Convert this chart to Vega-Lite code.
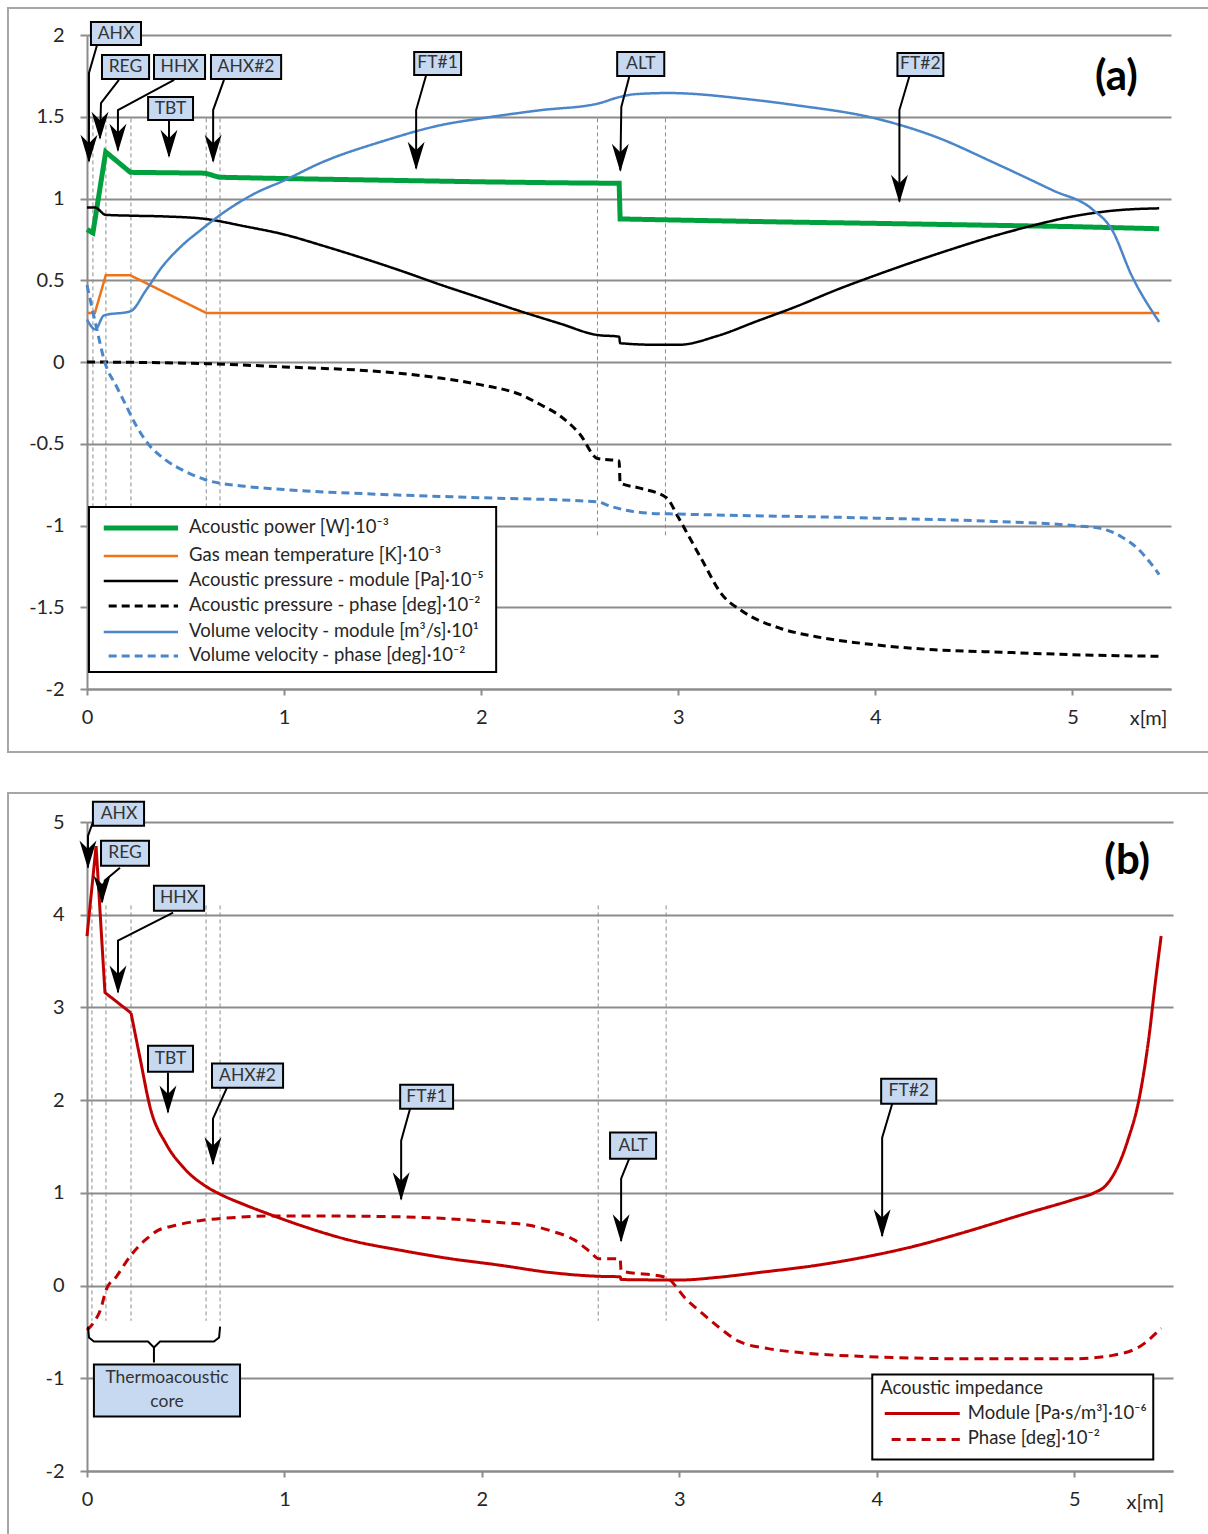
{
"$schema": "https://vega.github.io/schema/vega-lite/v6.json",
"padding": {"left": 6, "top": 7, "right": 0, "bottom": 0},
"background": "white",
"spacing": 38,
"resolve": {"scale": {"color": "independent", "strokeDash": "independent", "strokeWidth": "independent"}},
"config": {
  "view": {"stroke": null},
  "font": "Lato",
  "axis": {"labelFont": "Lato", "labelFontSize": 20, "labelColor": "#262626", "domainColor": "#8c8c8c", "domainWidth": 2, "tickColor": "#8c8c8c", "tickWidth": 2, "gridColor": "#8c8c8c", "gridWidth": 2, "labelFlush": false, "labelOverlap": false}
},
"datasets": {
  "frameA": [{"x": -0.401, "x2": 5.72, "y": 2.165, "y2": -2.385}],
  "frameB": [{"x": -0.4, "x2": 5.71, "y": 5.313, "y2": -2.75}],
  "vA": [{"x": 0.03, "y": 1.49, "y2": -1.06}, {"x": 0.096, "y": 1.49, "y2": -1.06}, {"x": 0.223, "y": 1.49, "y2": -1.06}, {"x": 0.605, "y": 1.49, "y2": -1.06}, {"x": 0.675, "y": 1.49, "y2": -1.06}, {"x": 2.59, "y": 1.49, "y2": -1.06}, {"x": 2.935, "y": 1.49, "y2": -1.06}],
  "vB": [{"x": 0.025, "y": 4.1, "y2": -0.38}, {"x": 0.096, "y": 4.1, "y2": -0.38}, {"x": 0.223, "y": 4.1, "y2": -0.38}, {"x": 0.603, "y": 4.1, "y2": -0.38}, {"x": 0.674, "y": 4.1, "y2": -0.38}, {"x": 2.589, "y": 4.1, "y2": -0.38}, {"x": 2.933, "y": 4.1, "y2": -0.38}],
  "seriesA1": [
    {"s": "P", "x": 0, "y": 0.81}, {"s": "P", "x": 0.03, "y": 0.79}, {"s": "P", "x": 0.095, "y": 1.285}, {"s": "P", "x": 0.22, "y": 1.16}, {"s": "P", "x": 0.6, "y": 1.155}, {"s": "P", "x": 0.67, "y": 1.13}, {"s": "P", "x": 1.0, "y": 1.122}, {"s": "P", "x": 1.5, "y": 1.112}, {"s": "P", "x": 2.0, "y": 1.102}, {"s": "P", "x": 2.4, "y": 1.096}, {"s": "P", "x": 2.7, "y": 1.093}, {"s": "P", "x": 2.705, "y": 0.875}, {"s": "P", "x": 3.0, "y": 0.868}, {"s": "P", "x": 3.5, "y": 0.857}, {"s": "P", "x": 4.0, "y": 0.848}, {"s": "P", "x": 4.5, "y": 0.838}, {"s": "P", "x": 5.0, "y": 0.828}, {"s": "P", "x": 5.44, "y": 0.815},
    {"s": "T", "x": 0, "y": 0.3}, {"s": "T", "x": 0.04, "y": 0.3}, {"s": "T", "x": 0.095, "y": 0.53}, {"s": "T", "x": 0.22, "y": 0.53}, {"s": "T", "x": 0.605, "y": 0.3}, {"s": "T", "x": 5.44, "y": 0.3}
  ],
  "seriesA2": [
    {"s": "PM", "x": 0, "y": 0.945}, {"s": "PM", "x": 0.04, "y": 0.945}, {"s": "PM", "x": 0.095, "y": 0.9}, {"s": "PM", "x": 0.22, "y": 0.895}, {"s": "PM", "x": 0.4, "y": 0.89}, {"s": "PM", "x": 0.6, "y": 0.875}, {"s": "PM", "x": 0.8, "y": 0.83}, {"s": "PM", "x": 1.0, "y": 0.78}, {"s": "PM", "x": 1.2, "y": 0.71}, {"s": "PM", "x": 1.4, "y": 0.635}, {"s": "PM", "x": 1.6, "y": 0.555}, {"s": "PM", "x": 1.8, "y": 0.47}, {"s": "PM", "x": 2.0, "y": 0.39}, {"s": "PM", "x": 2.2, "y": 0.31}, {"s": "PM", "x": 2.4, "y": 0.235}, {"s": "PM", "x": 2.59, "y": 0.165}, {"s": "PM", "x": 2.7, "y": 0.155}, {"s": "PM", "x": 2.705, "y": 0.115}, {"s": "PM", "x": 2.9, "y": 0.105}, {"s": "PM", "x": 3.0, "y": 0.105}, {"s": "PM", "x": 3.2, "y": 0.16}, {"s": "PM", "x": 3.4, "y": 0.25}, {"s": "PM", "x": 3.6, "y": 0.34}, {"s": "PM", "x": 3.8, "y": 0.44}, {"s": "PM", "x": 4.0, "y": 0.53}, {"s": "PM", "x": 4.2, "y": 0.615}, {"s": "PM", "x": 4.4, "y": 0.695}, {"s": "PM", "x": 4.6, "y": 0.77}, {"s": "PM", "x": 4.8, "y": 0.835}, {"s": "PM", "x": 5.0, "y": 0.89}, {"s": "PM", "x": 5.2, "y": 0.925}, {"s": "PM", "x": 5.44, "y": 0.94},
    {"s": "PP", "x": 0, "y": 0}, {"s": "PP", "x": 0.3, "y": -0.003}, {"s": "PP", "x": 0.6, "y": -0.01}, {"s": "PP", "x": 1.0, "y": -0.03}, {"s": "PP", "x": 1.5, "y": -0.06}, {"s": "PP", "x": 1.8, "y": -0.1}, {"s": "PP", "x": 2.0, "y": -0.14}, {"s": "PP", "x": 2.2, "y": -0.2}, {"s": "PP", "x": 2.3, "y": -0.26}, {"s": "PP", "x": 2.4, "y": -0.33}, {"s": "PP", "x": 2.5, "y": -0.44}, {"s": "PP", "x": 2.59, "y": -0.59}, {"s": "PP", "x": 2.7, "y": -0.605}, {"s": "PP", "x": 2.705, "y": -0.74}, {"s": "PP", "x": 2.8, "y": -0.77}, {"s": "PP", "x": 2.94, "y": -0.83}, {"s": "PP", "x": 3.0, "y": -0.95}, {"s": "PP", "x": 3.06, "y": -1.08}, {"s": "PP", "x": 3.12, "y": -1.21}, {"s": "PP", "x": 3.22, "y": -1.42}, {"s": "PP", "x": 3.32, "y": -1.52}, {"s": "PP", "x": 3.52, "y": -1.63}, {"s": "PP", "x": 3.7, "y": -1.68}, {"s": "PP", "x": 4.0, "y": -1.73}, {"s": "PP", "x": 4.3, "y": -1.76}, {"s": "PP", "x": 4.64, "y": -1.775}, {"s": "PP", "x": 5.0, "y": -1.79}, {"s": "PP", "x": 5.44, "y": -1.8},
    {"s": "VM", "x": 0, "y": 0.26}, {"s": "VM", "x": 0.042, "y": 0.2}, {"s": "VM", "x": 0.086, "y": 0.285}, {"s": "VM", "x": 0.22, "y": 0.31}, {"s": "VM", "x": 0.3, "y": 0.44}, {"s": "VM", "x": 0.38, "y": 0.58}, {"s": "VM", "x": 0.48, "y": 0.71}, {"s": "VM", "x": 0.58, "y": 0.81}, {"s": "VM", "x": 0.7, "y": 0.92}, {"s": "VM", "x": 0.85, "y": 1.03}, {"s": "VM", "x": 1.0, "y": 1.11}, {"s": "VM", "x": 1.19, "y": 1.22}, {"s": "VM", "x": 1.5, "y": 1.35}, {"s": "VM", "x": 1.8, "y": 1.45}, {"s": "VM", "x": 2.0, "y": 1.49}, {"s": "VM", "x": 2.3, "y": 1.54}, {"s": "VM", "x": 2.59, "y": 1.58}, {"s": "VM", "x": 2.7, "y": 1.62}, {"s": "VM", "x": 2.78, "y": 1.638}, {"s": "VM", "x": 2.95, "y": 1.645}, {"s": "VM", "x": 3.37, "y": 1.605}, {"s": "VM", "x": 3.6, "y": 1.57}, {"s": "VM", "x": 4.0, "y": 1.49}, {"s": "VM", "x": 4.3, "y": 1.38}, {"s": "VM", "x": 4.6, "y": 1.22}, {"s": "VM", "x": 4.9, "y": 1.05}, {"s": "VM", "x": 5.1, "y": 0.935}, {"s": "VM", "x": 5.2, "y": 0.81}, {"s": "VM", "x": 5.3, "y": 0.53}, {"s": "VM", "x": 5.44, "y": 0.245},
    {"s": "VP", "x": 0, "y": 0.47}, {"s": "VP", "x": 0.05, "y": 0.2}, {"s": "VP", "x": 0.09, "y": 0.0}, {"s": "VP", "x": 0.15, "y": -0.15}, {"s": "VP", "x": 0.2, "y": -0.27}, {"s": "VP", "x": 0.25, "y": -0.39}, {"s": "VP", "x": 0.31, "y": -0.5}, {"s": "VP", "x": 0.4, "y": -0.6}, {"s": "VP", "x": 0.5, "y": -0.67}, {"s": "VP", "x": 0.6, "y": -0.72}, {"s": "VP", "x": 0.8, "y": -0.76}, {"s": "VP", "x": 1.0, "y": -0.78}, {"s": "VP", "x": 1.5, "y": -0.81}, {"s": "VP", "x": 2.0, "y": -0.83}, {"s": "VP", "x": 2.59, "y": -0.855}, {"s": "VP", "x": 2.65, "y": -0.88}, {"s": "VP", "x": 2.75, "y": -0.91}, {"s": "VP", "x": 2.85, "y": -0.925}, {"s": "VP", "x": 3.0, "y": -0.93}, {"s": "VP", "x": 4.0, "y": -0.955}, {"s": "VP", "x": 4.6, "y": -0.975}, {"s": "VP", "x": 5.0, "y": -1.0}, {"s": "VP", "x": 5.15, "y": -1.02}, {"s": "VP", "x": 5.25, "y": -1.07}, {"s": "VP", "x": 5.33, "y": -1.14}, {"s": "VP", "x": 5.39, "y": -1.22}, {"s": "VP", "x": 5.44, "y": -1.3}
  ],
  "legendA": [
    {"s": "P", "label": "Acoustic power [W]·10⁻³", "x": 0.085, "x2": 0.462, "y": -1.015},
    {"s": "T", "label": "Gas mean temperature [K]·10⁻³", "x": 0.085, "x2": 0.462, "y": -1.187},
    {"s": "PM", "label": "Acoustic pressure - module [Pa]·10⁻⁵", "x": 0.085, "x2": 0.462, "y": -1.339},
    {"s": "PP", "label": "Acoustic pressure - phase [deg]·10⁻²", "x": 0.11, "x2": 0.462, "y": -1.492},
    {"s": "VM", "label": "Volume velocity - module [m³/s]·10¹", "x": 0.085, "x2": 0.462, "y": -1.651},
    {"s": "VP", "label": "Volume velocity - phase [deg]·10⁻²", "x": 0.11, "x2": 0.462, "y": -1.798}
  ],
  "legendBoxA": [{"x": 0.01, "x2": 2.076, "y": -0.887, "y2": -1.896}],
  "arrowsA": [
    {"id": "AHX", "k": 0, "x": 0.051, "y": 1.939}, {"id": "AHX", "k": 1, "x": 0.01, "y": 1.768}, {"id": "AHX", "k": 2, "x": 0.01, "y": 1.23},
    {"id": "REG", "k": 0, "x": 0.162, "y": 1.725}, {"id": "REG", "k": 1, "x": 0.071, "y": 1.584}, {"id": "REG", "k": 2, "x": 0.066, "y": 1.37},
    {"id": "HHX", "k": 0, "x": 0.442, "y": 1.725}, {"id": "HHX", "k": 1, "x": 0.157, "y": 1.541}, {"id": "HHX", "k": 2, "x": 0.157, "y": 1.295},
    {"id": "TBT", "k": 0, "x": 0.416, "y": 1.48}, {"id": "TBT", "k": 1, "x": 0.416, "y": 1.26},
    {"id": "AHX2", "k": 0, "x": 0.695, "y": 1.725}, {"id": "AHX2", "k": 1, "x": 0.64, "y": 1.541}, {"id": "AHX2", "k": 2, "x": 0.64, "y": 1.23},
    {"id": "FT1", "k": 0, "x": 1.721, "y": 1.755}, {"id": "FT1", "k": 1, "x": 1.67, "y": 1.541}, {"id": "FT1", "k": 2, "x": 1.67, "y": 1.185},
    {"id": "ALT", "k": 0, "x": 2.751, "y": 1.743}, {"id": "ALT", "k": 1, "x": 2.711, "y": 1.56}, {"id": "ALT", "k": 2, "x": 2.706, "y": 1.172},
    {"id": "FT2", "k": 0, "x": 4.173, "y": 1.749}, {"id": "FT2", "k": 1, "x": 4.122, "y": 1.541}, {"id": "FT2", "k": 2, "x": 4.122, "y": 0.982}
  ],
  "headsA": [{"x": 0.01, "y": 1.217}, {"x": 0.066, "y": 1.358}, {"x": 0.157, "y": 1.284}, {"x": 0.416, "y": 1.248}, {"x": 0.64, "y": 1.217}, {"x": 1.67, "y": 1.174}, {"x": 2.706, "y": 1.162}, {"x": 4.122, "y": 0.972}],
  "boxesA": [
    {"t": "AHX", "cx": 0.147, "cy": 2.006, "x": 0.02, "x2": 0.274, "y": 2.08, "y2": 1.939},
    {"t": "REG", "cx": 0.195, "cy": 1.804, "x": 0.076, "x2": 0.315, "y": 1.878, "y2": 1.731},
    {"t": "HHX", "cx": 0.47, "cy": 1.804, "x": 0.34, "x2": 0.599, "y": 1.878, "y2": 1.731},
    {"t": "AHX#2", "cx": 0.807, "cy": 1.804, "x": 0.629, "x2": 0.985, "y": 1.878, "y2": 1.731},
    {"t": "TBT", "cx": 0.424, "cy": 1.55, "x": 0.31, "x2": 0.538, "y": 1.621, "y2": 1.48},
    {"t": "FT#1", "cx": 1.779, "cy": 1.826, "x": 1.66, "x2": 1.898, "y": 1.896, "y2": 1.755},
    {"t": "ALT", "cx": 2.81, "cy": 1.823, "x": 2.69, "x2": 2.929, "y": 1.896, "y2": 1.749},
    {"t": "FT#2", "cx": 4.228, "cy": 1.82, "x": 4.112, "x2": 4.345, "y": 1.89, "y2": 1.749}
  ],
  "panelTagA": [{"t": "(a)", "x": 5.223, "y": 1.743}],
  "unitA": [{"t": "x[m]", "x": 5.386, "y": -2.183}],
  "seriesB1": [
    {"s": "M", "x": 0, "y": 3.77}, {"s": "M", "x": 0.046, "y": 4.74}, {"s": "M", "x": 0.091, "y": 3.16}, {"s": "M", "x": 0.223, "y": 2.94}
  ],
  "seriesB2": [
    {"s": "M", "x": 0.223, "y": 2.94}, {"s": "M", "x": 0.268, "y": 2.46}, {"s": "M", "x": 0.32, "y": 1.92}, {"s": "M", "x": 0.4, "y": 1.53}, {"s": "M", "x": 0.49, "y": 1.27}, {"s": "M", "x": 0.61, "y": 1.06}, {"s": "M", "x": 0.67, "y": 0.99}, {"s": "M", "x": 0.8, "y": 0.87}, {"s": "M", "x": 0.91, "y": 0.78}, {"s": "M", "x": 1.08, "y": 0.65}, {"s": "M", "x": 1.33, "y": 0.49}, {"s": "M", "x": 1.59, "y": 0.38}, {"s": "M", "x": 1.84, "y": 0.29}, {"s": "M", "x": 2.09, "y": 0.22}, {"s": "M", "x": 2.35, "y": 0.14}, {"s": "M", "x": 2.59, "y": 0.1}, {"s": "M", "x": 2.7, "y": 0.095}, {"s": "M", "x": 2.705, "y": 0.065}, {"s": "M", "x": 3.0, "y": 0.06}, {"s": "M", "x": 3.2, "y": 0.09}, {"s": "M", "x": 3.4, "y": 0.14}, {"s": "M", "x": 3.7, "y": 0.22}, {"s": "M", "x": 3.92, "y": 0.3}, {"s": "M", "x": 4.2, "y": 0.43}, {"s": "M", "x": 4.42, "y": 0.56}, {"s": "M", "x": 4.76, "y": 0.78}, {"s": "M", "x": 5.0, "y": 0.93}, {"s": "M", "x": 5.1, "y": 1.0}, {"s": "M", "x": 5.16, "y": 1.08}, {"s": "M", "x": 5.2, "y": 1.2}, {"s": "M", "x": 5.24, "y": 1.38}, {"s": "M", "x": 5.27, "y": 1.56}, {"s": "M", "x": 5.33, "y": 2.03}, {"s": "M", "x": 5.38, "y": 2.71}, {"s": "M", "x": 5.41, "y": 3.26}, {"s": "M", "x": 5.44, "y": 3.77},
    {"s": "Ph", "x": 0, "y": -0.48}, {"s": "Ph", "x": 0.04, "y": -0.38}, {"s": "Ph", "x": 0.07, "y": -0.25}, {"s": "Ph", "x": 0.096, "y": -0.05}, {"s": "Ph", "x": 0.15, "y": 0.1}, {"s": "Ph", "x": 0.22, "y": 0.32}, {"s": "Ph", "x": 0.26, "y": 0.42}, {"s": "Ph", "x": 0.3, "y": 0.5}, {"s": "Ph", "x": 0.355, "y": 0.59}, {"s": "Ph", "x": 0.45, "y": 0.65}, {"s": "Ph", "x": 0.57, "y": 0.7}, {"s": "Ph", "x": 0.75, "y": 0.735}, {"s": "Ph", "x": 0.91, "y": 0.75}, {"s": "Ph", "x": 1.18, "y": 0.75}, {"s": "Ph", "x": 1.5, "y": 0.745}, {"s": "Ph", "x": 1.84, "y": 0.72}, {"s": "Ph", "x": 2.09, "y": 0.68}, {"s": "Ph", "x": 2.24, "y": 0.65}, {"s": "Ph", "x": 2.35, "y": 0.59}, {"s": "Ph", "x": 2.47, "y": 0.49}, {"s": "Ph", "x": 2.55, "y": 0.36}, {"s": "Ph", "x": 2.59, "y": 0.29}, {"s": "Ph", "x": 2.7, "y": 0.29}, {"s": "Ph", "x": 2.705, "y": 0.16}, {"s": "Ph", "x": 2.93, "y": 0.09}, {"s": "Ph", "x": 3.04, "y": -0.16}, {"s": "Ph", "x": 3.1, "y": -0.27}, {"s": "Ph", "x": 3.2, "y": -0.45}, {"s": "Ph", "x": 3.3, "y": -0.6}, {"s": "Ph", "x": 3.45, "y": -0.68}, {"s": "Ph", "x": 3.6, "y": -0.72}, {"s": "Ph", "x": 4.0, "y": -0.77}, {"s": "Ph", "x": 4.5, "y": -0.79}, {"s": "Ph", "x": 5.0, "y": -0.79}, {"s": "Ph", "x": 5.2, "y": -0.75}, {"s": "Ph", "x": 5.33, "y": -0.66}, {"s": "Ph", "x": 5.44, "y": -0.46}
  ],
  "legendB": [
    {"s": "M", "label": "Module [Pa·s/m³]·10⁻⁶", "x": 4.04, "x2": 4.42, "y": -1.38},
    {"s": "Ph", "label": "Phase [deg]·10⁻²", "x": 4.075, "x2": 4.42, "y": -1.66}
  ],
  "legendBoxB": [{"x": 3.977, "x2": 5.4, "y": -0.96, "y2": -1.876}],
  "legendTitleB": [{"t": "Acoustic impedance", "x": 4.017, "y": -1.11}],
  "arrowsB": [
    {"id": "AHX", "k": 0, "x": 0.03, "y": 5.0}, {"id": "AHX", "k": 1, "x": 0.005, "y": 4.851}, {"id": "AHX", "k": 2, "x": 0.005, "y": 4.51},
    {"id": "REG", "k": 0, "x": 0.167, "y": 4.507}, {"id": "REG", "k": 1, "x": 0.09, "y": 4.37}, {"id": "REG", "k": 2, "x": 0.076, "y": 4.135},
    {"id": "HHX", "k": 0, "x": 0.436, "y": 4.022}, {"id": "HHX", "k": 1, "x": 0.157, "y": 3.72}, {"id": "HHX", "k": 2, "x": 0.157, "y": 3.165},
    {"id": "TBT", "k": 0, "x": 0.41, "y": 2.296}, {"id": "TBT", "k": 1, "x": 0.41, "y": 1.87},
    {"id": "AHX2", "k": 0, "x": 0.709, "y": 2.135}, {"id": "AHX2", "k": 1, "x": 0.638, "y": 1.801}, {"id": "AHX2", "k": 2, "x": 0.638, "y": 1.31},
    {"id": "FT1", "k": 0, "x": 1.636, "y": 1.908}, {"id": "FT1", "k": 1, "x": 1.591, "y": 1.563}, {"id": "FT1", "k": 2, "x": 1.591, "y": 0.93},
    {"id": "ALT", "k": 0, "x": 2.746, "y": 1.369}, {"id": "ALT", "k": 1, "x": 2.705, "y": 1.154}, {"id": "ALT", "k": 2, "x": 2.705, "y": 0.48},
    {"id": "FT2", "k": 0, "x": 4.078, "y": 1.962}, {"id": "FT2", "k": 1, "x": 4.027, "y": 1.596}, {"id": "FT2", "k": 2, "x": 4.027, "y": 0.535}
  ],
  "headsB": [{"x": 0.005, "y": 4.496}, {"x": 0.076, "y": 4.119}, {"x": 0.157, "y": 3.148}, {"x": 0.41, "y": 1.854}, {"x": 0.638, "y": 1.294}, {"x": 1.591, "y": 0.916}, {"x": 2.705, "y": 0.464}, {"x": 4.027, "y": 0.518}],
  "boxesB": [
    {"t": "AHX", "cx": 0.162, "cy": 5.089, "x": 0.03, "x2": 0.289, "y": 5.218, "y2": 4.96},
    {"t": "REG", "cx": 0.193, "cy": 4.663, "x": 0.071, "x2": 0.314, "y": 4.798, "y2": 4.528},
    {"t": "HHX", "cx": 0.466, "cy": 4.178, "x": 0.339, "x2": 0.593, "y": 4.313, "y2": 4.043},
    {"t": "TBT", "cx": 0.423, "cy": 2.447, "x": 0.309, "x2": 0.537, "y": 2.588, "y2": 2.307},
    {"t": "AHX#2", "cx": 0.813, "cy": 2.264, "x": 0.633, "x2": 0.993, "y": 2.394, "y2": 2.135},
    {"t": "FT#1", "cx": 1.72, "cy": 2.038, "x": 1.586, "x2": 1.854, "y": 2.167, "y2": 1.908},
    {"t": "ALT", "cx": 2.766, "cy": 1.509, "x": 2.649, "x2": 2.882, "y": 1.65, "y2": 1.369},
    {"t": "FT#2", "cx": 4.162, "cy": 2.097, "x": 4.022, "x2": 4.301, "y": 2.232, "y2": 1.962},
    {"t": "Thermoacoustic\ncore", "cx": 0.405, "cy": -1.0, "x": 0.035, "x2": 0.775, "y": -0.852, "y2": -1.412}
  ],
  "braceB": [
    {"k": 0, "x": 0.005, "y": -0.442}, {"k": 1, "x": 0.01, "y": -0.561}, {"k": 2, "x": 0.035, "y": -0.604}, {"k": 3, "x": 0.309, "y": -0.604}, {"k": 4, "x": 0.339, "y": -0.668}, {"k": 5, "x": 0.339, "y": -0.83}, {"k": 6, "x": 0.339, "y": -0.668}, {"k": 7, "x": 0.37, "y": -0.604}, {"k": 8, "x": 0.643, "y": -0.604}, {"k": 9, "x": 0.669, "y": -0.561}, {"k": 10, "x": 0.674, "y": -0.442}
  ],
  "panelTagB": [{"t": "(b)", "x": 5.268, "y": 4.582}],
  "unitB": [{"t": "x[m]", "x": 5.36, "y": -2.35}]
},
"vconcat": [
  {
    "width": 1084, "height": 654,
    "layer": [
      {"data": {"name": "frameA"}, "mark": {"type": "rect", "fill": "transparent", "stroke": "#a6a6a6", "strokeWidth": 2},
       "encoding": {
         "x": {"field": "x", "type": "quantitative", "title": null, "scale": {"domain": [0, 5.5], "nice": false, "zero": false},
               "axis": {"values": [0, 1, 2, 3, 4, 5], "labelExpr": "datum.value + ''", "grid": false, "tickSize": 6, "labelPadding": 12}},
         "x2": {"field": "x2"},
         "y": {"field": "y", "type": "quantitative", "title": null, "scale": {"domain": [-2, 2], "nice": false, "zero": false},
               "axis": {"values": [-2, -1.5, -1, -0.5, 0, 0.5, 1, 1.5, 2], "labelExpr": "datum.value + ''", "grid": true, "tickSize": 7, "labelPadding": 16}},
         "y2": {"field": "y2"}}},
      {"data": {"name": "vA"}, "mark": {"type": "rule", "color": "#8c8c8c", "strokeWidth": 1, "strokeDash": [4, 3]},
       "encoding": {"x": {"field": "x", "type": "quantitative", "title": null}, "y": {"field": "y", "type": "quantitative", "title": null}, "y2": {"field": "y2"}}},
      {"data": {"name": "seriesA1"}, "mark": {"type": "line"},
       "encoding": {
         "x": {"field": "x", "type": "quantitative", "title": null},
         "y": {"field": "y", "type": "quantitative", "title": null},
         "color": {"field": "s", "type": "nominal", "legend": null, "scale": {"domain": ["P", "T", "PM", "PP", "VM", "VP"], "range": ["#00A03E", "#F07318", "#000000", "#000000", "#4A86C8", "#4A86C8"]}},
         "strokeDash": {"field": "s", "type": "nominal", "legend": null, "scale": {"domain": ["P", "T", "PM", "PP", "VM", "VP"], "range": [[1, 0], [1, 0], [1, 0], [8, 5], [1, 0], [8, 5]]}},
         "strokeWidth": {"field": "s", "type": "nominal", "legend": null, "scale": {"type": "ordinal", "domain": ["P", "T", "PM", "PP", "VM", "VP"], "range": [5, 2.5, 2.5, 3, 2.5, 3]}}}},
      {"data": {"name": "seriesA2"}, "mark": {"type": "line", "interpolate": "monotone"},
       "encoding": {
         "x": {"field": "x", "type": "quantitative", "title": null},
         "y": {"field": "y", "type": "quantitative", "title": null},
         "color": {"field": "s", "type": "nominal", "legend": null},
         "strokeDash": {"field": "s", "type": "nominal", "legend": null},
         "strokeWidth": {"field": "s", "type": "nominal", "legend": null, "scale": {"type": "ordinal", "domain": ["P", "T", "PM", "PP", "VM", "VP"], "range": [5, 2.5, 2.5, 3, 2.5, 3]}}}},
      {"data": {"name": "arrowsA"}, "mark": {"type": "line", "color": "black", "strokeWidth": 2},
       "encoding": {"x": {"field": "x", "type": "quantitative", "title": null}, "y": {"field": "y", "type": "quantitative", "title": null}, "detail": {"field": "id"}, "order": {"field": "k", "type": "quantitative"}}},
      {"data": {"name": "headsA"}, "mark": {"type": "point", "shape": "M0,0L-0.6,-2L0,-1.4L0.6,-2Z", "filled": true, "color": "black", "opacity": 1, "size": 800, "strokeWidth": 0},
       "encoding": {"x": {"field": "x", "type": "quantitative", "title": null}, "y": {"field": "y", "type": "quantitative", "title": null}}},
      {"data": {"name": "boxesA"}, "mark": {"type": "rect", "fill": "#C6D9F1", "stroke": "black", "strokeWidth": 2},
       "encoding": {"x": {"field": "x", "type": "quantitative", "title": null}, "x2": {"field": "x2"}, "y": {"field": "y", "type": "quantitative", "title": null}, "y2": {"field": "y2"}}},
      {"data": {"name": "boxesA"}, "mark": {"type": "text", "font": "Lato", "fontSize": 17.5, "color": "#333333", "align": "center", "baseline": "middle"},
       "encoding": {"x": {"field": "cx", "type": "quantitative", "title": null}, "y": {"field": "cy", "type": "quantitative", "title": null}, "text": {"field": "t"}}},
      {"data": {"name": "legendBoxA"}, "mark": {"type": "rect", "fill": "white", "stroke": "black", "strokeWidth": 2},
       "encoding": {"x": {"field": "x", "type": "quantitative", "title": null}, "x2": {"field": "x2"}, "y": {"field": "y", "type": "quantitative", "title": null}, "y2": {"field": "y2"}}},
      {"data": {"name": "legendA"}, "mark": {"type": "rule"},
       "encoding": {
         "x": {"field": "x", "type": "quantitative", "title": null}, "x2": {"field": "x2"},
         "y": {"field": "y", "type": "quantitative", "title": null},
         "color": {"field": "s", "type": "nominal", "legend": null},
         "strokeDash": {"field": "s", "type": "nominal", "legend": null},
         "strokeWidth": {"field": "s", "type": "nominal", "legend": null, "scale": {"type": "ordinal", "domain": ["P", "T", "PM", "PP", "VM", "VP"], "range": [5, 2.5, 2.5, 3, 2.5, 3]}}}},
      {"data": {"name": "legendA"}, "mark": {"type": "text", "font": "Lato", "fontSize": 18.5, "color": "#262626", "align": "left", "baseline": "middle", "dx": 11, "dy": -1},
       "encoding": {"x": {"field": "x2", "type": "quantitative", "title": null}, "y": {"field": "y", "type": "quantitative", "title": null}, "text": {"field": "label"}}},
      {"data": {"name": "panelTagA"}, "mark": {"type": "text", "font": "Lato", "fontSize": 42, "fontWeight": "bold", "color": "black", "align": "center", "baseline": "middle"},
       "encoding": {"x": {"field": "x", "type": "quantitative", "title": null}, "y": {"field": "y", "type": "quantitative", "title": null}, "text": {"field": "t"}}},
      {"data": {"name": "unitA"}, "mark": {"type": "text", "font": "Lato", "fontSize": 20, "color": "#262626", "align": "center", "baseline": "middle"},
       "encoding": {"x": {"field": "x", "type": "quantitative", "title": null}, "y": {"field": "y", "type": "quantitative", "title": null}, "text": {"field": "t"}}}
    ]
  },
  {
    "width": 1086, "height": 649,
    "layer": [
      {"data": {"name": "frameB"}, "mark": {"type": "rect", "fill": "transparent", "stroke": "#a6a6a6", "strokeWidth": 2},
       "encoding": {
         "x": {"field": "x", "type": "quantitative", "title": null, "scale": {"domain": [0, 5.5], "nice": false, "zero": false},
               "axis": {"values": [0, 1, 2, 3, 4, 5], "labelExpr": "datum.value + ''", "grid": false, "tickSize": 6, "labelPadding": 12}},
         "x2": {"field": "x2"},
         "y": {"field": "y", "type": "quantitative", "title": null, "scale": {"domain": [-2, 5], "nice": false, "zero": false},
               "axis": {"values": [-2, -1, 0, 1, 2, 3, 4, 5], "labelExpr": "datum.value + ''", "grid": true, "tickSize": 7, "labelPadding": 16}},
         "y2": {"field": "y2"}}},
      {"data": {"name": "vB"}, "mark": {"type": "rule", "color": "#8c8c8c", "strokeWidth": 1, "strokeDash": [4, 3]},
       "encoding": {"x": {"field": "x", "type": "quantitative", "title": null}, "y": {"field": "y", "type": "quantitative", "title": null}, "y2": {"field": "y2"}}},
      {"data": {"name": "seriesB1"}, "mark": {"type": "line", "strokeWidth": 3},
       "encoding": {
         "x": {"field": "x", "type": "quantitative", "title": null},
         "y": {"field": "y", "type": "quantitative", "title": null},
         "color": {"field": "s", "type": "nominal", "legend": null, "scale": {"domain": ["M", "Ph"], "range": ["#C00000", "#C00000"]}},
         "strokeDash": {"field": "s", "type": "nominal", "legend": null, "scale": {"domain": ["M", "Ph"], "range": [[1, 0], [9, 6]]}}}},
      {"data": {"name": "seriesB2"}, "mark": {"type": "line", "strokeWidth": 3, "interpolate": "monotone"},
       "encoding": {
         "x": {"field": "x", "type": "quantitative", "title": null},
         "y": {"field": "y", "type": "quantitative", "title": null},
         "color": {"field": "s", "type": "nominal", "legend": null},
         "strokeDash": {"field": "s", "type": "nominal", "legend": null}}},
      {"data": {"name": "arrowsB"}, "mark": {"type": "line", "color": "black", "strokeWidth": 2},
       "encoding": {"x": {"field": "x", "type": "quantitative", "title": null}, "y": {"field": "y", "type": "quantitative", "title": null}, "detail": {"field": "id"}, "order": {"field": "k", "type": "quantitative"}}},
      {"data": {"name": "headsB"}, "mark": {"type": "point", "shape": "M0,0L-0.6,-2L0,-1.4L0.6,-2Z", "filled": true, "color": "black", "opacity": 1, "size": 800, "strokeWidth": 0},
       "encoding": {"x": {"field": "x", "type": "quantitative", "title": null}, "y": {"field": "y", "type": "quantitative", "title": null}}},
      {"data": {"name": "braceB"}, "mark": {"type": "line", "color": "black", "strokeWidth": 2},
       "encoding": {"x": {"field": "x", "type": "quantitative", "title": null}, "y": {"field": "y", "type": "quantitative", "title": null}, "order": {"field": "k", "type": "quantitative"}}},
      {"data": {"name": "boxesB"}, "mark": {"type": "rect", "fill": "#C6D9F1", "stroke": "black", "strokeWidth": 2},
       "encoding": {"x": {"field": "x", "type": "quantitative", "title": null}, "x2": {"field": "x2"}, "y": {"field": "y", "type": "quantitative", "title": null}, "y2": {"field": "y2"}}},
      {"data": {"name": "boxesB"}, "mark": {"type": "text", "font": "Lato", "fontSize": 17.5, "color": "#333333", "align": "center", "baseline": "middle", "lineBreak": "\n", "lineHeight": 24},
       "encoding": {"x": {"field": "cx", "type": "quantitative", "title": null}, "y": {"field": "cy", "type": "quantitative", "title": null}, "text": {"field": "t"}}},
      {"data": {"name": "legendBoxB"}, "mark": {"type": "rect", "fill": "white", "stroke": "black", "strokeWidth": 2},
       "encoding": {"x": {"field": "x", "type": "quantitative", "title": null}, "x2": {"field": "x2"}, "y": {"field": "y", "type": "quantitative", "title": null}, "y2": {"field": "y2"}}},
      {"data": {"name": "legendB"}, "mark": {"type": "rule", "strokeWidth": 3},
       "encoding": {
         "x": {"field": "x", "type": "quantitative", "title": null}, "x2": {"field": "x2"},
         "y": {"field": "y", "type": "quantitative", "title": null},
         "color": {"field": "s", "type": "nominal", "legend": null},
         "strokeDash": {"field": "s", "type": "nominal", "legend": null}}},
      {"data": {"name": "legendB"}, "mark": {"type": "text", "font": "Lato", "fontSize": 18.5, "color": "#262626", "align": "left", "baseline": "middle", "dx": 8, "dy": -1},
       "encoding": {"x": {"field": "x2", "type": "quantitative", "title": null}, "y": {"field": "y", "type": "quantitative", "title": null}, "text": {"field": "label"}}},
      {"data": {"name": "legendTitleB"}, "mark": {"type": "text", "font": "Lato", "fontSize": 18.5, "color": "#262626", "align": "left", "baseline": "middle"},
       "encoding": {"x": {"field": "x", "type": "quantitative", "title": null}, "y": {"field": "y", "type": "quantitative", "title": null}, "text": {"field": "t"}}},
      {"data": {"name": "panelTagB"}, "mark": {"type": "text", "font": "Lato", "fontSize": 42, "fontWeight": "bold", "color": "black", "align": "center", "baseline": "middle"},
       "encoding": {"x": {"field": "x", "type": "quantitative", "title": null}, "y": {"field": "y", "type": "quantitative", "title": null}, "text": {"field": "t"}}},
      {"data": {"name": "unitB"}, "mark": {"type": "text", "font": "Lato", "fontSize": 20, "color": "#262626", "align": "center", "baseline": "middle"},
       "encoding": {"x": {"field": "x", "type": "quantitative", "title": null}, "y": {"field": "y", "type": "quantitative", "title": null}, "text": {"field": "t"}}}
    ]
  }
]
}
